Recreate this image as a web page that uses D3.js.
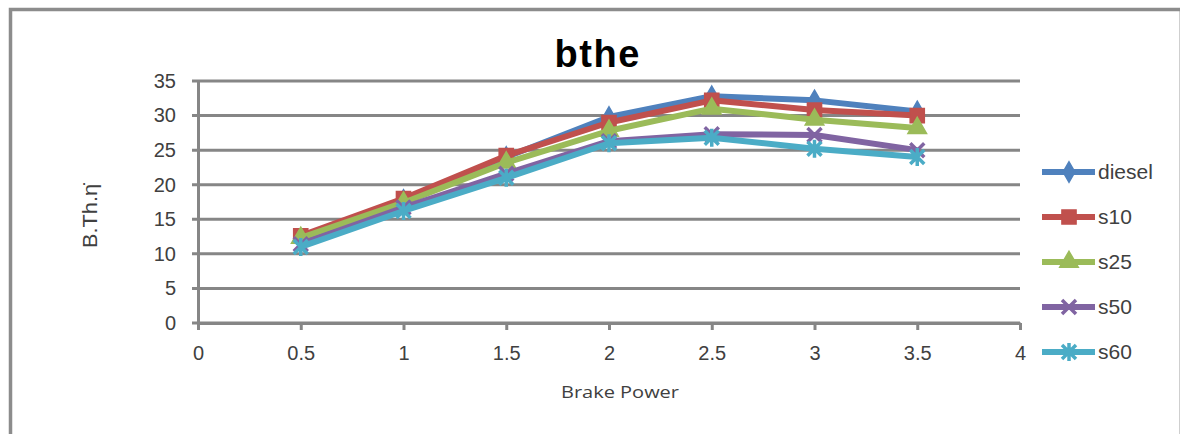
<!DOCTYPE html>
<html>
<head>
<meta charset="utf-8">
<script src="https://cdn.jsdelivr.net/npm/d3@7"></script>
<style>
  body { margin: 0; background: #fff; }
  text { font-family: "Liberation Sans", Arial, sans-serif; fill: #404040; }
</style>
</head>
<body>
<div id="chart"></div>
<script>
// data
const brakePower = [0.5, 1, 1.5, 2, 2.5, 3, 3.5]
const diesel = [12, 17.8, 24, 29.8, 32.8, 32.2, 30.6]
const s10 = [12.6, 18, 24.2, 29, 32.2, 30.8, 30]
const s25 = [12.3, 17.4, 23.2, 27.8, 31, 29.4, 28.2]
const s50 = [11.4, 16.7, 21.6, 26.3, 27.3, 27.2, 25]
const s60 = [11, 16.2, 21, 26, 26.8, 25.2, 24]
const seriesNames = ["diesel", "s10", "s25", "s50", "s60"]
const xTicks = [0, 0.5, 1, 1.5, 2, 2.5, 3, 3.5, 4]
const yTicks = [0, 5, 10, 15, 20, 25, 30, 35]

const width = 1181
const height = 434
const margin = { top: 81, right: 161, bottom: 111, left: 198 }

const colors = ["#4F81BD", "#C0504D", "#9BBB59", "#8064A2", "#4BACC6"]
const seriesValues = [diesel, s10, s25, s50, s60]
const series = seriesNames.map((name, i) => ({
  name: name,
  color: colors[i],
  values: brakePower.map((x, j) => ({ x: x, y: seriesValues[i][j] }))
}))

const svg = d3.select("#chart").append("svg")
  .attr("width", width)
  .attr("height", height)

// outer frame
svg.append("rect")
  .attr("x", 10.5).attr("y", 9.5)
  .attr("width", 1169).attr("height", 440)
  .attr("fill", "none").attr("stroke", "#cfcfcf").attr("stroke-width", 1)
svg.append("path")
  .attr("d", "M10.5,440V9.5H1180")
  .attr("fill", "none").attr("stroke", "#8c8c8c").attr("stroke-width", 3.5)

const x = d3.scaleLinear()
  .domain([0, 4])
  .range([margin.left, width - margin.right])

const y = d3.scaleLinear()
  .domain([0, 35])
  .range([height - margin.bottom, margin.top])

const axisColor = "#868686"

// gridlines
svg.append("g")
  .selectAll("line")
  .data(yTicks)
  .join("line")
    .attr("x1", margin.left - 6)
    .attr("x2", x(4))
    .attr("y1", d => y(d))
    .attr("y2", d => y(d))
    .attr("stroke", axisColor)
    .attr("stroke-width", 3)

// y axis
const yAxis = svg.append("g")
  .attr("transform", `translate(${margin.left},0)`)
  .call(d3.axisLeft(y).tickValues(yTicks).tickSize(0).tickPadding(22))
yAxis.select(".domain").attr("stroke", axisColor).attr("stroke-width", 3)
yAxis.selectAll("text").style("font-size", "20px").attr("fill", "#404040")

// x axis
const xAxis = svg.append("g")
  .attr("transform", `translate(0,${y(0)})`)
  .call(d3.axisBottom(x).tickValues(xTicks).tickFormat(d3.format("~g"))
    .tickSize(7).tickPadding(16).tickSizeOuter(0))
xAxis.select(".domain").attr("stroke", axisColor).attr("stroke-width", 3)
xAxis.selectAll(".tick line").attr("stroke", axisColor).attr("stroke-width", 3)
xAxis.selectAll("text").style("font-size", "20px").attr("fill", "#404040")

// titles
svg.append("text")
  .attr("x", 597).attr("y", 67)
  .attr("text-anchor", "middle")
  .style("font-size", "38px").style("font-weight", "bold")
  .style("fill", "#000")
  .attr("textLength", 85)
  .text("bthe")

svg.append("text")
  .attr("x", 620).attr("y", 398)
  .attr("text-anchor", "middle")
  .style("font-family", "'Open Sans', sans-serif")
  .style("font-size", "16px")
  .attr("textLength", 118)
  .attr("lengthAdjust", "spacingAndGlyphs")
  .text("Brake Power")

svg.append("text")
  .attr("transform", "translate(97,216) rotate(-90)")
  .attr("text-anchor", "middle")
  .style("font-size", "20px")
  .attr("textLength", 64)
  .attr("lengthAdjust", "spacingAndGlyphs")
  .text("B.Th.η̇")

// marker shapes
function marker(name) {
  if (name === "diesel") return d3.symbol(d3.symbolDiamond, 120)()
  if (name === "s10") return d3.symbol(d3.symbolSquare, 200)()
  if (name === "s25") return d3.symbol(d3.symbolTriangle, 150)()
  if (name === "s50") return "M-7,-7L7,7M-7,7L7,-7"
  return "M-7,-7L7,7M-7,7L7,-7M0,-9L0,9"
}
const strokeMarker = n => n === "s50" || n === "s60"

const line = d3.line()
  .x(d => x(d.x))
  .y(d => y(d.y))

const groups = svg.append("g")
  .selectAll("g")
  .data(series)
  .join("g")

groups.append("path")
  .attr("d", d => line(d.values))
  .attr("fill", "none")
  .attr("stroke", d => d.color)
  .attr("stroke-width", 6)
  .attr("stroke-linejoin", "round")

groups.each(function (s) {
  d3.select(this).selectAll(".pt")
    .data(s.values)
    .join("path")
      .attr("class", "pt")
      .attr("transform", d => `translate(${x(d.x)},${y(d.y)})`)
      .attr("d", marker(s.name))
      .attr("fill", strokeMarker(s.name) ? "none" : s.color)
      .attr("stroke", s.color)
      .attr("stroke-width", strokeMarker(s.name) ? 3.5 : 1.5)
})

// legend
const legend = svg.append("g")
  .selectAll("g")
  .data(series)
  .join("g")
    .attr("transform", (d, i) => `translate(1042,${172 + i * 45})`)

legend.append("line")
  .attr("x1", 0).attr("x2", 53)
  .attr("stroke", d => d.color)
  .attr("stroke-width", 6)

legend.append("path")
  .attr("transform", "translate(27,0)")
  .attr("d", d => marker(d.name))
  .attr("fill", d => strokeMarker(d.name) ? "none" : d.color)
  .attr("stroke", d => d.color)
  .attr("stroke-width", d => strokeMarker(d.name) ? 3.5 : 1.5)

legend.append("text")
  .attr("x", 56).attr("y", 7)
  .style("font-size", "21px")
  .text(d => d.name)
</script>
</body>
</html>
